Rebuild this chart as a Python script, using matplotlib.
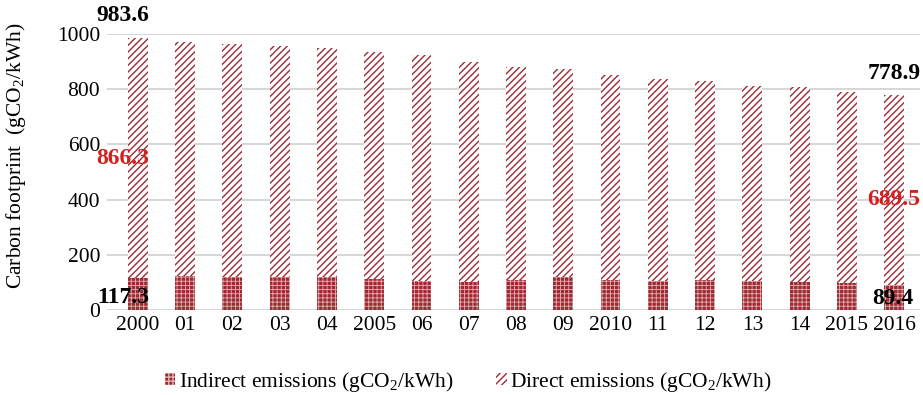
import matplotlib
matplotlib.use("Agg")
import matplotlib.pyplot as plt
import numpy as np

years = ["2000", "01", "02", "03", "04", "2005", "06", "07", "08", "09",
         "2010", "11", "12", "13", "14", "2015", "2016"]
total = [983.6, 971, 964, 957, 949, 935, 924, 899, 880, 873,
         851, 837, 828, 812, 807, 790, 778.9]
indirect = [117.3, 123, 120, 118, 120, 112, 105, 102, 109, 118,
            108, 106, 109, 105, 101, 98, 89.4]
direct = [t - i for t, i in zip(total, indirect)]
direct[0] = 866.3
direct[-1] = 689.5

plt.rcParams['font.family'] = ['Liberation Serif', 'DejaVu Serif']
plt.rcParams['mathtext.fontset'] = 'custom'
plt.rcParams['mathtext.rm'] = 'Liberation Serif'
plt.rcParams['mathtext.it'] = 'Liberation Serif:italic'

fig = plt.figure(figsize=(9.23, 3.95), dpi=100)
ax = fig.add_axes([0.116, 0.215, 0.881, 0.699])

x = np.arange(len(years))
w = 0.42
red = '#a02a34'
plt.rcParams['hatch.linewidth'] = 0.6
b1 = ax.bar(x, indirect, w, facecolor=red, edgecolor='#e0b0b0', hatch='++++',
            linewidth=0, label='Indirect emissions (gCO$_2$/kWh)', zorder=3)
plt.rcParams['hatch.linewidth'] = 1.0
b2 = ax.bar(x, direct, w, bottom=indirect, facecolor='white', edgecolor=red,
            hatch='/////', linewidth=0, label='Direct emissions (gCO$_2$/kWh)', zorder=3)

ax.set_ylim(0, 1000)
ax.set_xlim(-0.65, 16.55)
ax.set_yticks([0, 200, 400, 600, 800, 1000])
ax.set_xticks(x)
ax.set_xticklabels(years)
ax.tick_params(axis='both', length=0, labelsize=15.5)
ax.tick_params(axis='y', pad=5)
ax.tick_params(axis='x', pad=4)
ax.grid(axis='y', color='#d0d0d0', linewidth=1.2, zorder=0)
for s in ['top', 'right', 'left', 'bottom']:
    ax.spines[s].set_visible(False)
ax.set_ylabel('Carbon footprint  (gCO$_2$/kWh)', fontsize=15.5)
ax.yaxis.set_label_coords(-0.097, 0.56)

# value labels
lab = dict(fontsize=17, fontweight='bold')
ax.text(x[0] - 0.32, total[0] + 45, f"{total[0]:.1f}", ha='center', va='bottom',
        clip_on=False, **lab)
ax.text(x[-1], total[-1] + 40, f"{total[-1]:.1f}", ha='center', va='bottom',
        clip_on=False, **lab)
ax.text(x[0] - 0.32, 550, f"{direct[0]:.1f}", ha='center', va='center',
        color='#d42020', zorder=5, **lab)
ax.text(x[-1], 400, f"{direct[-1]:.1f}", ha='center', va='center',
        color='#d42020', zorder=5, **lab)
ax.text(x[0] - 0.32, 45, f"{indirect[0]:.1f}", ha='center', va='center',
        color='black', zorder=5, **lab)
ax.text(x[-1] - 0.03, 42, f"{indirect[-1]:.1f}", ha='center', va='center',
        color='black', zorder=5, **lab)

leg = fig.legend(handles=[b1, b2], loc='center', bbox_to_anchor=(0.507, 0.033),
                 ncol=2, frameon=False, fontsize=15.5, handlelength=0.5,
                 handleheight=0.5, handletextpad=0.15, columnspacing=2.0)

fig.savefig('out.png', dpi=100)
